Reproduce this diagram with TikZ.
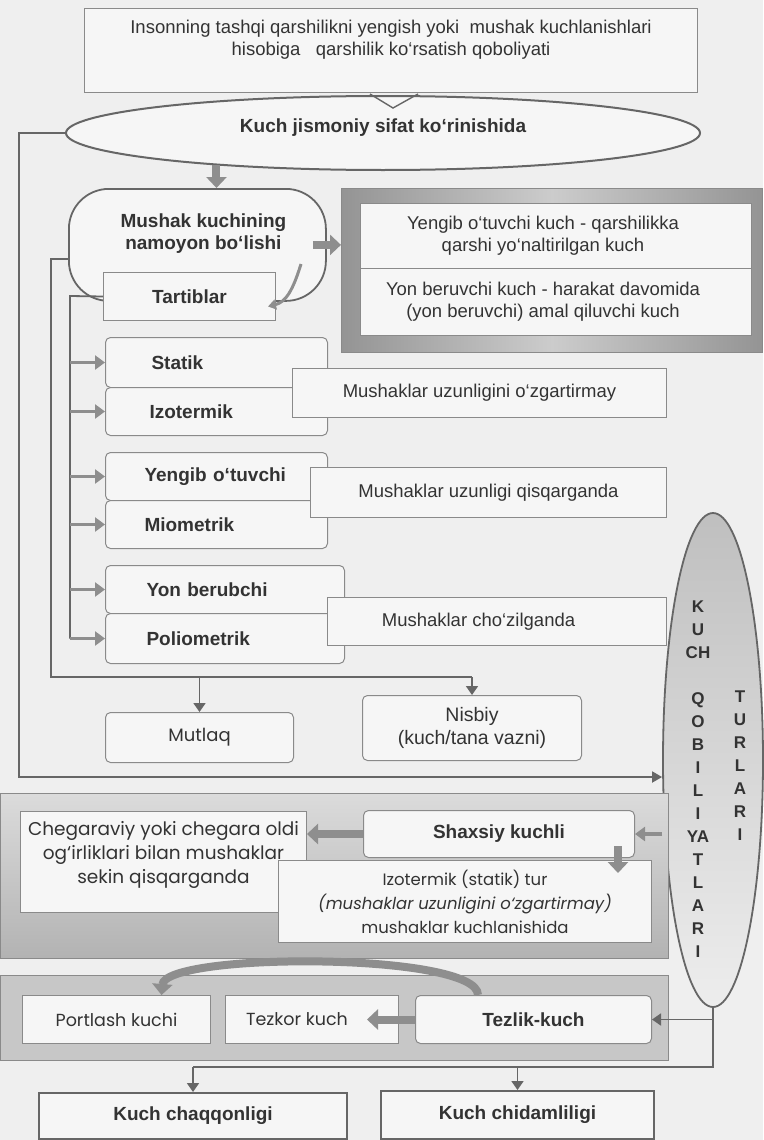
\documentclass[tikz,border=0pt]{standalone}
\usepackage{fontspec}
\setmainfont{Liberation Sans}
\newfontfamily\gothic{Poppins}
\usetikzlibrary{arrows.meta,shapes.geometric,calc}
\definecolor{bg}{HTML}{EFEFEF}
\definecolor{ln}{HTML}{666666}
\definecolor{bx}{HTML}{F6F6F6}
\definecolor{bd}{HTML}{8A8A8A}
\definecolor{ar}{HTML}{8E8E8E}
\definecolor{tx}{HTML}{333333}
\begin{document}
\begin{tikzpicture}[x=1pt,y=-1pt,
 every node/.style={text=tx, font=\fontsize{18.5}{22}\selectfont},
 box/.style={draw=bd, line width=1pt, fill=bx, inner sep=0pt, anchor=north west, align=center},
 rbox/.style={box, rounded corners=5pt},
 bf/.style={font=\bfseries\fontsize{19}{22}\selectfont},
 gt/.style={font=\gothic\fontsize{18.5}{24}\selectfont},
 conn/.style={draw=ln, line width=1.8pt},
 garr/.style={conn, -{Triangle[length=9pt,width=12pt]}},
 sarr/.style={draw=ar, line width=3.5pt, -{Triangle[length=10pt,width=14pt]}},
 fat/.style={draw=ar, line width=8pt, -{Triangle[length=11pt,width=20pt]}},
 frame/.style={draw=bd, line width=1pt, inner sep=0pt, anchor=north west},
 lft/.style={align=left, inner ysep=0pt},
 kql/.style={font=\bfseries\fontsize{17}{23}\selectfont, align=center, inner sep=0pt, anchor=north},
]
\fill[bg] (0,0) rectangle (763,1140);
\useasboundingbox (0,0) rectangle (763,1140);

% top
\node[box, minimum width=613, minimum height=84, text depth=26pt] (top) at (84,8)
  {Insonning tashqi qarshilikni yengish yoki\ \ mushak kuchlanishlari\\hisobiga\ \ \ qarshilik ko‘rsatish qoboliyati};

\node[ellipse, draw=ln, line width=2pt, fill=bx, minimum width=634, minimum height=74, inner sep=0pt, bf, text depth=14pt] (ell) at (383,133) {Kuch jismoniy sifat ko‘rinishida};
\draw[draw=ln, line width=1.4pt] (370,94) -- (393,108) -- (418,94);

% mushak
\node[draw=ln, line width=1.8pt, fill=bx, rounded corners=40pt, minimum width=257, minimum height=112, anchor=north west, inner sep=0pt, align=center, bf, text depth=27pt] (mush) at (68,188)
  {\rule{12pt}{0pt}Mushak kuchining\\\rule{12pt}{0pt}namoyon bo‘lishi};
\node[box, bf, minimum width=172, minimum height=48] (tart) at (103,272) {Tartiblar};

% right framed boxes
\node[frame, left color=black!42, right color=black!42, middle color=black!20, minimum width=421, minimum height=164] (frm) at (341,188) {};
\node[box, minimum width=391, minimum height=65] (yb) at (360,203) {Yengib o‘tuvchi kuch - qarshilikka\rule{26pt}{0pt}\\qarshi yo‘naltirilgan kuch\rule{26pt}{0pt}};
\node[box, minimum width=391, minimum height=67] (ybk) at (360,268) {Yon beruvchi kuch - harakat davomida\rule{26pt}{0pt}\\(yon beruvchi) amal qiluvchi kuch\rule{26pt}{0pt}};

% regimes
\node[rbox, bf, lft, text width=130, inner xsep=46, minimum height=50] (stat) at (105,337) {Statik};
\node[rbox, bf, lft, text width=134, inner xsep=44, minimum height=48] (izo) at (105,387) {Izotermik};
\node[box, minimum width=374, minimum height=49] (m1) at (292,368) {Mushaklar uzunligini o‘zgartirmay};
\node[rbox, bf, lft, text width=144, inner xsep=39, minimum height=48] (yen) at (105,452) {Yengib o‘tuvchi};
\node[rbox, bf, lft, text width=144, inner xsep=39, minimum height=48] (mio) at (105,500) {Miometrik};
\node[box, minimum width=356, minimum height=50] (m2) at (310,467) {Mushaklar uzunligi qisqarganda};
\node[rbox, bf, lft, text width=157, inner xsep=41, minimum height=48] (yon) at (105,565) {Yon berubchi};
\node[rbox, bf, lft, text width=157, inner xsep=41, minimum height=50] (pol) at (105,613) {Poliometrik};
\node[box, minimum width=339, minimum height=48] (m3) at (327,597) {Mushaklar cho‘zilganda\rule{37pt}{0pt}};

\node[rbox, font=\gothic\fontsize{18}{22}\selectfont, minimum width=188, minimum height=50] (mut) at (105,712) {Mutlaq};
\node[rbox, minimum width=219, minimum height=65, font=\fontsize{19.5}{23}\selectfont] (nis) at (362,695) {Nisbiy\\(kuch/tana vazni)};

% vertical ellipse
\node[ellipse, draw=ln, line width=1.8pt, top color=black!25, bottom color=black!7, minimum width=100, minimum height=494, inner sep=0pt] (kq) at (713,760) {};
\node[kql] (kqa) at (698,600.5)
  {K\\U\\CH\\[23pt]Q\\O\\B\\I\\L\\I\\YA\\T\\L\\A\\R\\I};
\node[kql] (kqb) at (740,690.5)
  {T\\U\\R\\L\\A\\R\\I};

% shaxsiy section
\node[frame, top color=black!14, bottom color=black!30, minimum width=668, minimum height=165] (sf) at (0,793) {};
\node[box, gt, minimum width=286, minimum height=101, text depth=20pt] (che) at (20,811) {Chegaraviy yoki chegara oldi\\og‘irliklari bilan mushaklar\\sekin qisqarganda};
\node[box, minimum width=373, minimum height=82, font=\gothic\fontsize{16.5}{24}\selectfont] (izt) at (278,860) {Izotermik (statik) tur\\{\itshape(mushaklar uzunligini o‘zgartirmay)}\\mushaklar kuchlanishida};
\node[rbox, bf, minimum width=271, minimum height=47] (shx) at (363,810) {Shaxsiy kuchli};

% tezlik section
\node[frame, fill=black!22, minimum width=668, minimum height=85] (tf) at (0,975) {};
\node[box, font=\gothic\fontsize{17.5}{20}\selectfont, minimum width=188, minimum height=48] (por) at (22,995) {Portlash kuchi};
\node[box, font=\gothic\fontsize{17.5}{20}\selectfont, minimum width=173, minimum height=48] (tez) at (225,995) {Tezkor kuch\rule{30pt}{0pt}};
\node[rbox, bf, minimum width=236, minimum height=48] (tzk) at (415,995) {Tezlik-kuch};

% bottom
\node[box, bf, draw=ln, line width=2pt, minimum width=308, minimum height=46] (chq) at (38,1092) {Kuch chaqqonligi};
\node[box, bf, draw=ln, line width=2pt, minimum width=273, minimum height=48] (chd) at (380,1090) {Kuch chidamliligi};

% connectors
\coordinate (L1) at (19,777);
\draw[conn, -{Triangle[length=10pt,width=11pt]}] (ell.west) -| (L1) -- (kq.west |- L1);
\draw[fat] (ell.191) -- (ell.191 |- mush.north);
\draw[fat] ([xshift=-14pt]mush.east) -- (frm.west |- mush.east);
\coordinate (c1) at (301,264);
\draw[draw=ar, line width=3pt, -{Triangle[length=8pt,width=10pt]}] (c1) .. controls (293,290) and (286,302) .. ([xshift=-8pt,yshift=-10pt]tart.east);

\coordinate (M1) at (51,677);
\draw[conn] ([yshift=-14pt]mush.west) -| (M1) -- (M1 -| nis.north);
\draw[garr] (M1 -| mut.north) -- (mut.north);
\draw[garr] (M1 -| nis.north) -- (nis.north);

\coordinate (T1) at (70,296);
\draw[conn] (tart.west) -- (T1) -- (T1 |- pol.west);
\foreach \b in {stat,izo,yen,mio,yon,pol}{\draw[sarr] (T1 |- \b.west) -- (\b.west);}

\draw[sarr] (kq.west |- shx.east) -- (shx.east);
\draw[fat] (shx.west) -- (che.east |- shx.west);
\draw[fat] ($(shx.south east)+(-17,-12)$) -- ++(0,27);

\draw[fat] (tzk.west) -- ([xshift=-32pt]tez.east);
\draw[fat] ([xshift=63pt]tzk.north west) .. controls (478,952) and (165,952) .. ([xshift=45pt]por.north);

\coordinate (B1) at (0,1067);
\draw[conn] (kq.south) -- (kq.south |- B1) -- (B1 -| chq.north);
\draw[garr] (kq.south |- tzk.east) -- (tzk.east);
\draw[garr] (B1 -| chq.north) -- (chq.north);
\draw[garr] (B1 -| chd.north) -- (chd.north);
\end{tikzpicture}
\end{document}
